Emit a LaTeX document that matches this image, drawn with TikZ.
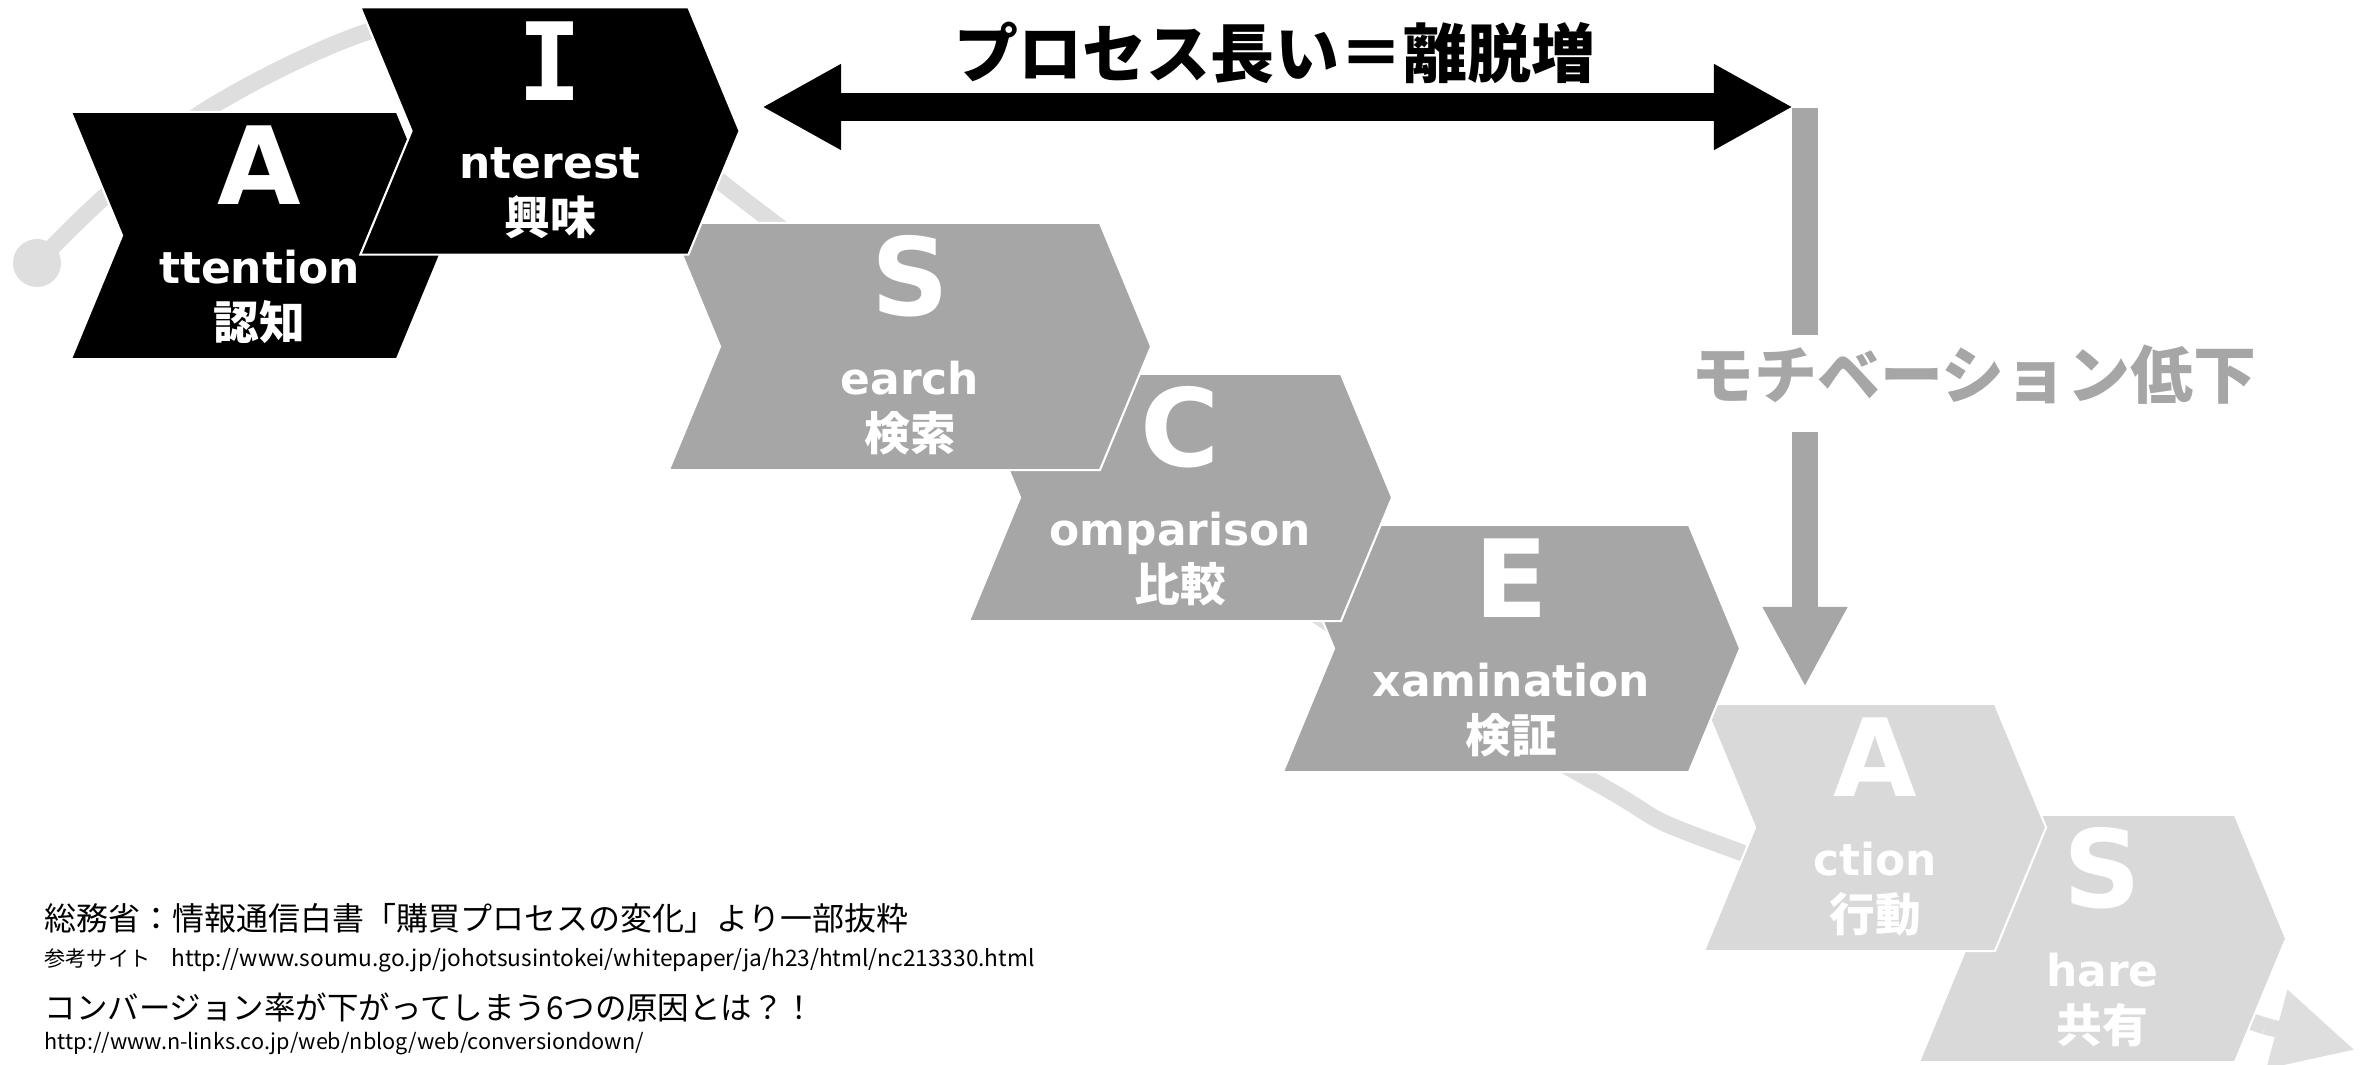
\documentclass[tikz,border=0pt]{standalone}
\usepackage{fontspec}
\setmainfont{DejaVu Sans}
\setmonofont{DejaVu Sans Mono}
\newfontfamily\jpfont{Noto Sans CJK JP}
\usetikzlibrary{positioning, arrows.meta, shapes.symbols}

\definecolor{stepgray}{RGB}{166,166,166}
\definecolor{steplight}{RGB}{217,217,217}
\definecolor{trackgray}{RGB}{222,222,222}

\begin{document}
\begin{tikzpicture}[x=0.01cm, y=-0.01cm,
	chev/.style={signal, signal from=west, signal to=east, signal pointer angle=135, minimum height=24.7mm, inner sep=0pt, draw=white, line width=0.6pt},
	letter/.style={anchor=base, text=white, font=\fontsize{30.7}{32}\selectfont\bfseries},
	word/.style={anchor=base, text=white, font=\fontsize{12.5}{14}\selectfont\bfseries},
	kanji/.style={anchor=base, text=white, font=\jpfont\fontsize{13}{15}\selectfont\bfseries},
	track/.style={draw=trackgray, line width=4.8pt},
	span/.style={line width=7.7pt, {Triangle[length=22.5pt, width=22.8pt]}-{Triangle[length=22.5pt, width=22.8pt]}},
	drop/.style={draw=stepgray, line width=7.4pt},
	note/.style={anchor=base west, inner sep=0pt, font=\jpfont\fontsize{9}{10}\selectfont},
	notesmall/.style={anchor=base west, inner sep=0pt, font=\jpfont\fontsize{6}{7}\selectfont}]

	\useasboundingbox (0, 0) rectangle (2371, 1065);

	% background track
	\node[circle, fill=trackgray, minimum size=4.8mm, inner sep=0pt] (start) at (37, 263) {};
	\coordinate (tailA) at (2265, 1026);
	\coordinate (tailB) at (2355, 1050);
	\draw[track] plot[smooth, tension=0.6] coordinates {(start.center) (103, 198) (206, 110) (367, 32) (480, 20) (610, 90) (740, 197) (1000, 390) (1315, 614) (1600, 785) (1740, 852) (tailA)};
	\draw[track, -{Triangle[length=23pt, width=21.9pt]}] (tailA) -- (tailB);

	% steps
	\node[chev, fill=black, minimum width=37.7mm] (att) at (259.5, 235.5) {};
	\node[chev, fill=steplight, minimum width=36.7mm] (sha) at (2102.5, 938.5) {};
	\node[chev, fill=steplight, minimum width=34.2mm] (act) at (1875, 827.5) {};
	\node[chev, fill=stepgray, minimum width=45.7mm] (exa) at (1511.5, 648.5) {};
	\node[chev, fill=stepgray, minimum width=42.3mm] (com) at (1180.5, 497.5) {};
	\node[chev, fill=stepgray, minimum width=48.2mm] (sea) at (910, 346.5) {};
	\node[chev, fill=black, minimum width=37.9mm] (int) at (550, 131) {};

	\node[letter] (attL) at ([yshift=3.05mm]att.center) {A};
	\node[word] (attW) at ([yshift=-4.75mm]att.center) {ttention};
	\node[kanji] (attK) at ([yshift=-10.35mm]att.center) {認知};

	\node[letter, font=\fontsize{30.7}{32}\selectfont\ttfamily\bfseries] (intL) at ([yshift=3.05mm]int.center) {I};
	\node[word] (intW) at ([yshift=-4.75mm]int.center) {nterest};
	\node[kanji] (intK) at ([yshift=-10.35mm]int.center) {興味};

	\node[letter] (seaL) at ([yshift=3.05mm]sea.center) {S};
	\node[word] (seaW) at ([yshift=-4.75mm]sea.center) {earch};
	\node[kanji] (seaK) at ([yshift=-10.35mm]sea.center) {検索};

	\node[letter] (comL) at ([yshift=3.05mm]com.center) {C};
	\node[word] (comW) at ([yshift=-4.75mm]com.center) {omparison};
	\node[kanji] (comK) at ([yshift=-10.35mm]com.center) {比較};

	\node[letter] (exaL) at ([yshift=3.05mm]exa.center) {E};
	\node[word] (exaW) at ([yshift=-4.75mm]exa.center) {xamination};
	\node[kanji] (exaK) at ([yshift=-10.35mm]exa.center) {検証};

	\node[letter] (actL) at ([yshift=3.05mm]act.center) {A};
	\node[word] (actW) at ([yshift=-4.75mm]act.center) {ction};
	\node[kanji] (actK) at ([yshift=-10.35mm]act.center) {行動};

	\node[letter] (shaL) at ([yshift=3.05mm]sha.center) {S};
	\node[word] (shaW) at ([yshift=-4.75mm]sha.center) {hare};
	\node[kanji] (shaK) at ([yshift=-10.35mm]sha.center) {共有};

	% process length
	\node[font=\jpfont\fontsize{18.2}{20}\selectfont\bfseries] (ttl) at (1275, 53) {プロセス長い＝離脱増};
	\coordinate (spanL) at (762, 107);
	\coordinate (spanR) at (1793, 107);
	\draw[span] (spanL) -- (spanR);

	% motivation drop
	\coordinate (dropTop) at (1805, 108);
	\coordinate (dropA) at (1805, 335);
	\node[text=stepgray, font=\jpfont\fontsize{17.9}{20}\selectfont\bfseries] (motiv) at (1974, 375) {モチベーション低下};
	\coordinate (dropB) at (1805, 432);
	\coordinate (dropEnd) at (1805, 687);
	\draw[drop] (dropTop) -- (dropA);
	\draw[drop, -{Triangle[length=22.8pt, width=22.5pt]}] (dropB) -- (dropEnd);

	% sources
	\node[note, font=\jpfont\fontsize{9.1}{10}\selectfont] (src) at (44, 931) {総務省：情報通信白書「購買プロセスの変化」より一部抜粋};
	\node[notesmall] (srcurl) at (44, 967) {参考サイト　{\fontsize{6.45}{7}\selectfont http://www.soumu.go.jp/johotsusintokei/whitepaper/ja/h23/html/nc213330.html}};
	\node[note, font=\jpfont\fontsize{8.95}{10}\selectfont] (ref) at (44, 1020) {コンバージョン率が下がってしまう6つの原因とは？！};
	\node[notesmall, font=\jpfont\fontsize{6.15}{7}\selectfont] (refurl) at (44, 1050) {http://www.n-links.co.jp/web/nblog/web/conversiondown/};
\end{tikzpicture}
\end{document}
